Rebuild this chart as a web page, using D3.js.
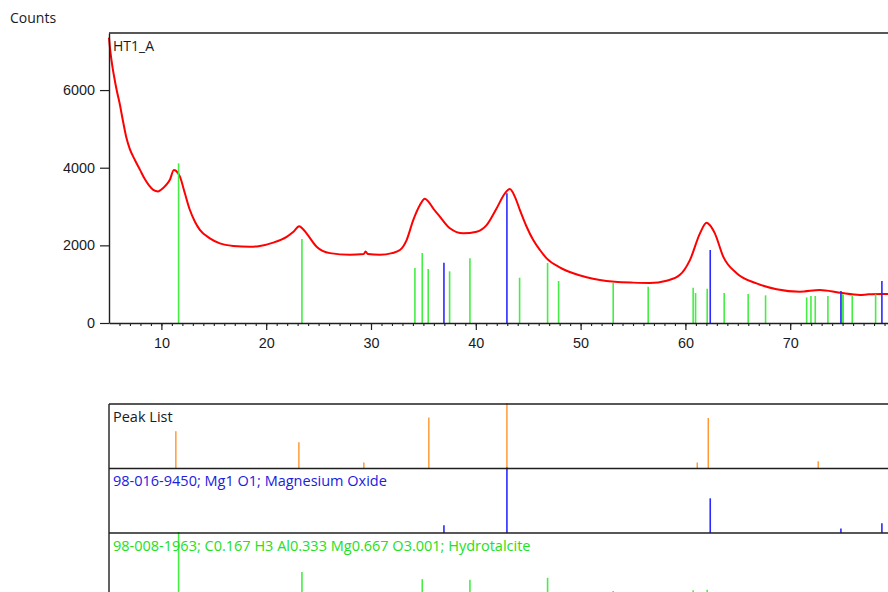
<!DOCTYPE html>
<html><head><meta charset="utf-8">
<script src="https://cdn.jsdelivr.net/npm/d3@7"></script>
<style>
html,body{margin:0;padding:0;background:#fff;}
svg{display:block;font-family:"Open Sans","Noto Sans",sans-serif;}
</style></head>
<body>
<svg id="chart" width="888" height="592"></svg>
<script>
// ---- DATA ----
const scanAngle = [5.0,5.05,5.15,5.3,5.5,5.73,6.0,6.3,6.68,6.99,7.47,7.95,8.43,8.8,9.22,9.69,10.0,10.33,10.81,11.19,11.4,11.77,12.24,12.72,13.2,13.67,14.63,15.58,16.85,18.44,19.4,20.67,21.95,22.6,23.15,23.5,23.85,24.81,26.08,27.99,29.3,29.48,29.7,30.85,32.0,32.76,33.4,34.03,34.67,35.14,35.5,35.94,36.57,37.53,38.8,40.08,41.03,41.98,42.78,43.25,43.73,44.21,44.85,45.48,46.12,46.76,48.0,49.3,50.57,51.84,53.27,55.02,56.6,58.21,59.48,60.43,61.39,62.02,62.3,62.81,63.61,64.89,66.79,68.7,70.92,72.83,74.74,76.65,77.5,79.32,80.0];
const scanCounts = [7350,7200,6950,6650,6330,6000,5680,5250,4750,4480,4200,3950,3700,3550,3430,3390,3440,3520,3690,3940,3920,3770,3340,2910,2610,2400,2180,2050,1985,1965,1985,2070,2220,2350,2490,2420,2310,1965,1800,1755,1775,1840,1775,1755,1800,1880,2137,2650,3040,3200,3120,2950,2740,2440,2310,2350,2520,2950,3340,3450,3250,2910,2480,2137,1880,1666,1434,1280,1177,1107,1063,1040,1030,1090,1240,1620,2310,2580,2530,2310,1710,1280,1020,870,806,850,780,721,740,747,750];

// Hydrotalcite reference sticks (main plot heights in counts, panel relative %)
const hydroPos    = [11.64,23.41,34.19,34.89,35.46,37.5,39.44,44.18,46.85,47.9,53.11,56.45,60.74,60.97,62.08,63.70,65.99,67.65,71.57,71.98,72.39,73.60,74.96,75.06,75.92,78.15];
const hydroMain   = [4113,2163,1416,1803,1391,1331,1666,1167,1545,1082,1038,935,910,772,884,772,747,712,661,695,695,695,738,730,695,738];
const hydroRel    = [100,39,6,28,5,5,27,5,30,6,10,7,11,5,12,5,5,5,4,4,4,4,5,5,4,5];

// Magnesium oxide reference sticks
const mgoPos  = [36.96,42.97,62.37,74.84,78.75];
const mgoMain = [1553,3340,1880,824,1082];
const mgoRel  = [12,100,53,7,15];

// Peak list
const peakPos = [11.38,23.12,29.32,35.52,42.97,61.13,62.18,72.67];
const peakRel = [57,40,9,78,100,9,77,11];

const yTicks = [0,2000,4000,6000];
const xMajor = [10,20,30,40,50,60,70];
const xMinor = d3.range(6,80);

const sampleName = "HT1_A";
const yTitle = "Counts";
const panelLabels = ["Peak List","98-016-9450; Mg1 O1; Magnesium Oxide","98-008-1963; C0.167 H3 Al0.333 Mg0.667 O3.001; Hydrotalcite"];

// ---- DRAW ----
const svg = d3.select("#chart");
svg.append("rect").attr("width",888).attr("height",592).attr("fill","#fff");

const x = d3.scaleLinear().domain([5,80]).range([109,895]);
const y = d3.scaleLinear().domain([0,7470]).range([323,33]);
const axisColor = "#1f1f1f";
const textColor = "#1a1a22";

// curve
const line = d3.line().x((d,i)=>x(scanAngle[i])).y((d,i)=>y(scanCounts[i])).curve(d3.curveMonotoneX);
svg.append("path").datum(scanCounts).attr("d",line)
  .attr("fill","none").attr("stroke","#ff0000").attr("stroke-width",2).attr("stroke-linejoin","round");

// sticks main
svg.append("g").selectAll("line").data(hydroPos).join("line")
  .attr("x1",d=>x(d)).attr("x2",d=>x(d)).attr("y1",y(0)).attr("y2",(d,i)=>y(hydroMain[i]))
  .attr("stroke","#44ee44").attr("stroke-width",1.6);
svg.append("g").selectAll("line").data(mgoPos).join("line")
  .attr("x1",d=>x(d)).attr("x2",d=>x(d)).attr("y1",y(0)).attr("y2",(d,i)=>y(mgoMain[i]))
  .attr("stroke","#2a2aff").attr("stroke-width",1.6);

// axes
const gy = svg.append("g").attr("transform","translate(109,0)")
  .call(d3.axisLeft(y).tickValues(yTicks).tickSize(9).tickSizeOuter(0).tickPadding(5).tickFormat(d3.format("d")));
gy.select(".domain").attr("stroke",axisColor).attr("stroke-width",1.4);
gy.selectAll(".tick line").attr("stroke",axisColor).attr("stroke-width",1.2);
gy.selectAll(".tick text").attr("font-size",14.4).attr("fill",textColor);

const gxm = svg.append("g").attr("transform","translate(0,323)")
  .call(d3.axisBottom(x).tickValues(xMinor).tickSize(3).tickSizeOuter(0).tickFormat(""));
gxm.select(".domain").attr("stroke",axisColor).attr("stroke-width",1.4);
gxm.selectAll(".tick line").attr("stroke",axisColor).attr("stroke-width",1.1);
const gx = svg.append("g").attr("transform","translate(0,323)")
  .call(d3.axisBottom(x).tickValues(xMajor).tickSize(7).tickSizeOuter(0).tickPadding(8));
gx.select(".domain").remove();
gx.selectAll(".tick line").attr("stroke",axisColor).attr("stroke-width",1.2);
gx.selectAll(".tick text").attr("font-size",14.4).attr("fill",textColor);

// top border
svg.append("line").attr("x1",109).attr("x2",888).attr("y1",33).attr("y2",33).attr("stroke",axisColor).attr("stroke-width",1.4);

svg.append("text").attr("x",10).attr("y",23).text(yTitle).attr("font-size",14).attr("fill",textColor);
svg.append("text").attr("x",113).attr("y",50.5).text(sampleName).attr("font-size",14).attr("fill",textColor);

// ---- bottom panels ----
const pTop = 404, pH = 64.5;
const panelColors = ["#1a1a22","#2020e0","#22e022"];
const stickColors = ["#ff8c1a","#2a2aff","#44ee44"];
const panelData = [
  peakPos.map((p,i)=>({p, r:peakRel[i]})),
  mgoPos.map((p,i)=>({p, r:mgoRel[i]})),
  hydroPos.map((p,i)=>({p, r:hydroRel[i]}))
];
panelData.forEach((arr,k)=>{
  const base = pTop + (k+1)*pH;
  svg.append("g").selectAll("line").data(arr).join("line")
    .attr("x1",d=>x(d.p)).attr("x2",d=>x(d.p)).attr("y1",base).attr("y2",d=>base - d.r/100*(pH+1))
    .attr("stroke",stickColors[k]).attr("stroke-width",k===0?1.3:1.6);
});
[0,1,2].forEach(k=>{
  svg.append("line").attr("x1",109).attr("x2",888).attr("y1",pTop+k*pH).attr("y2",pTop+k*pH)
    .attr("stroke",axisColor).attr("stroke-width",1.4);
  svg.append("text").attr("x",113).attr("y",pTop+k*pH+17.5).text(panelLabels[k])
    .attr("font-size",14.5).attr("fill",panelColors[k]);
});
svg.append("line").attr("x1",109).attr("x2",109).attr("y1",pTop).attr("y2",592)
  .attr("stroke",axisColor).attr("stroke-width",1.4);
</script>
</body></html>
